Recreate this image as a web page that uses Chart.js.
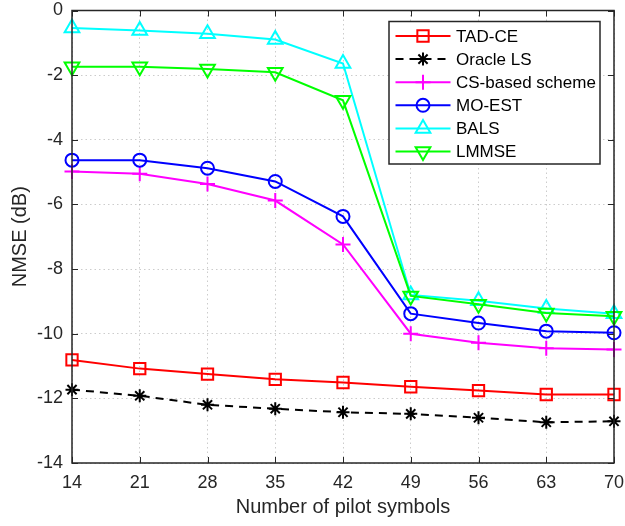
<!DOCTYPE html>
<html>
<head>
<meta charset="utf-8">
<script src="https://cdn.jsdelivr.net/npm/chart.js@4.4.1/dist/chart.umd.min.js"></script>
<style>
  html, body { margin: 0; padding: 0; background: #fff; }
  #wrap { width: 625px; height: 526px; }
</style>
</head>
<body>
<div id="wrap"><canvas id="nmseChart" width="625" height="526"></canvas></div>
<script>
// Pilot symbol counts (x axis)
const pilots = [14, 21, 28, 35, 42, 49, 56, 63, 70];

// NMSE values in dB
const tadCE    = [-10.81, -11.08, -11.25, -11.41, -11.51, -11.64, -11.76, -11.88, -11.88];
const oracleLS = [-11.73, -11.92, -12.20, -12.32, -12.43, -12.48, -12.60, -12.74, -12.71];
const csBased  = [-4.98, -5.05, -5.37, -5.88, -7.24, -10.00, -10.28, -10.45, -10.49];
const moEST    = [-4.63, -4.63, -4.88, -5.29, -6.37, -9.38, -9.67, -9.92, -9.97];
const bals     = [-0.54, -0.62, -0.72, -0.90, -1.64, -8.80, -8.98, -9.22, -9.38];
const lmmse    = [-1.74, -1.74, -1.81, -1.91, -2.78, -8.83, -9.09, -9.36, -9.46];

const yTicks = [-14, -12, -10, -8, -6, -4, -2, 0];

const font = '"Liberation Sans", Arial, Helvetica, sans-serif';
const axisColor = '#262626';

function series(label, data, color, style, radius, extra) {
    return Object.assign({
        label: label,
        data: pilots.map((p, i) => ({ x: p, y: data[i] })),
        borderColor: color,
        backgroundColor: color,
        borderWidth: 2,
        pointStyle: style,
        pointRadius: radius,
        pointHoverRadius: radius,
        pointBorderColor: color,
        pointBackgroundColor: 'rgba(0,0,0,0)',
        pointBorderWidth: 2,
        tension: 0,
        clip: false
    }, extra || {});
}

const datasets = [
    series('TAD-CE', tadCE, '#ff0000', 'rect', 8),
    series('Oracle LS', oracleLS, '#000000', 'star', 6.5, { borderDash: [8, 6] }),
    series('CS-based scheme', csBased, '#ff00ff', 'cross', 7.5),
    series('MO-EST', moEST, '#0000ff', 'circle', 6.5),
    series('BALS', bals, '#00ffff', 'triangle', 8.5),
    series('LMMSE', lmmse, '#00ff00', 'triangle', 8.5, { pointRotation: 180 })
];
// later series on top, like the original plot
datasets.forEach((d, i) => { d.order = datasets.length - i; });

// Draws the full axes box, inward ticks and the legend inside the plot
const framePlugin = {
    id: 'frame',
    afterDraw(chart) {
        const ctx = chart.ctx;
        const a = chart.chartArea;
        const xs = chart.scales.x, ys = chart.scales.y;
        ctx.save();
        ctx.strokeStyle = axisColor;
        ctx.lineWidth = 1.5;
        ctx.setLineDash([]);
        ctx.strokeRect(a.left, a.top, a.right - a.left, a.bottom - a.top);

        const tl = 6;
        ctx.lineWidth = 1;
        ctx.beginPath();
        pilots.forEach(v => {
            const px = Math.round(xs.getPixelForValue(v)) + 0.5;
            ctx.moveTo(px, a.bottom); ctx.lineTo(px, a.bottom - tl);
            ctx.moveTo(px, a.top); ctx.lineTo(px, a.top + tl);
        });
        yTicks.forEach(v => {
            const py = Math.round(ys.getPixelForValue(v)) + 0.5;
            ctx.moveTo(a.left, py); ctx.lineTo(a.left + tl, py);
            ctx.moveTo(a.right, py); ctx.lineTo(a.right - tl, py);
        });
        ctx.stroke();

        // legend box
        const bx = 389, by = 21.5, bw = 211, bh = 142.5;
        ctx.fillStyle = '#fff';
        ctx.fillRect(bx, by, bw, bh);
        ctx.lineWidth = 1.5;
        ctx.strokeStyle = '#262626';
        ctx.strokeRect(bx, by, bw, bh);

        ctx.font = '17px ' + font;
        ctx.textBaseline = 'middle';
        ctx.textAlign = 'left';
        datasets.forEach((d, i) => {
            const cy = by + 14.5 + i * 23.1;
            ctx.strokeStyle = d.borderColor;
            ctx.lineWidth = d.borderWidth;
            ctx.setLineDash(d.borderDash || []);
            ctx.beginPath();
            ctx.moveTo(bx + 6.5, cy);
            ctx.lineTo(bx + 61.5, cy);
            ctx.stroke();
            ctx.setLineDash([]);
            ctx.fillStyle = 'rgba(0,0,0,0)';
            Chart.helpers.drawPoint(ctx, {
                pointStyle: d.pointStyle,
                radius: d.pointRadius,
                rotation: d.pointRotation || 0,
                borderWidth: d.pointBorderWidth
            }, bx + 34, cy);
            ctx.fillStyle = '#000';
            ctx.fillText(d.label, bx + 67, cy + 1);
        });
        ctx.restore();
    }
};

const gridStyle = {
    color: 'rgba(0,0,0,0.2)',
    lineWidth: 1,
    drawTicks: false
};

const ctx = document.getElementById('nmseChart').getContext('2d');
new Chart(ctx, {
    type: 'line',
    data: { datasets: datasets },
    options: {
        responsive: false,
        animation: false,
        layout: { padding: { top: 6.5, right: 11, left: 0, bottom: 0 } },
        plugins: {
            legend: { display: false },
            tooltip: { enabled: false }
        },
        scales: {
            x: {
                type: 'linear',
                min: 14,
                max: 70,
                afterBuildTicks: axis => { axis.ticks = pilots.map(v => ({ value: v })); },
                afterFit: axis => {
                    axis.height = 63;
                    axis.paddingLeft = 0;
                    axis.paddingRight = 0;
                },
                grid: gridStyle,
                border: { display: false, dash: [1.5, 3] },
                ticks: {
                    color: axisColor,
                    font: { family: font, size: 18 },
                    padding: 9,
                    maxRotation: 0
                },
                title: {
                    display: true,
                    text: 'Number of pilot symbols',
                    color: axisColor,
                    font: { family: font, size: 20 },
                    padding: { top: 0, bottom: 7 }
                }
            },
            y: {
                min: -14,
                max: 0,
                afterBuildTicks: axis => { axis.ticks = yTicks.map(v => ({ value: v })); },
                afterFit: axis => {
                    axis.width = 72;
                    axis.paddingTop = 0;
                    axis.paddingBottom = 0;
                },
                grid: gridStyle,
                border: { display: false, dash: [1.5, 3] },
                ticks: {
                    color: axisColor,
                    font: { family: font, size: 18 },
                    padding: 9
                },
                title: {
                    display: true,
                    text: 'NMSE (dB)',
                    color: axisColor,
                    font: { family: font, size: 20 },
                    padding: { top: 8, bottom: 0 }
                }
            }
        }
    },
    plugins: [framePlugin]
});
</script>
</body>
</html>
